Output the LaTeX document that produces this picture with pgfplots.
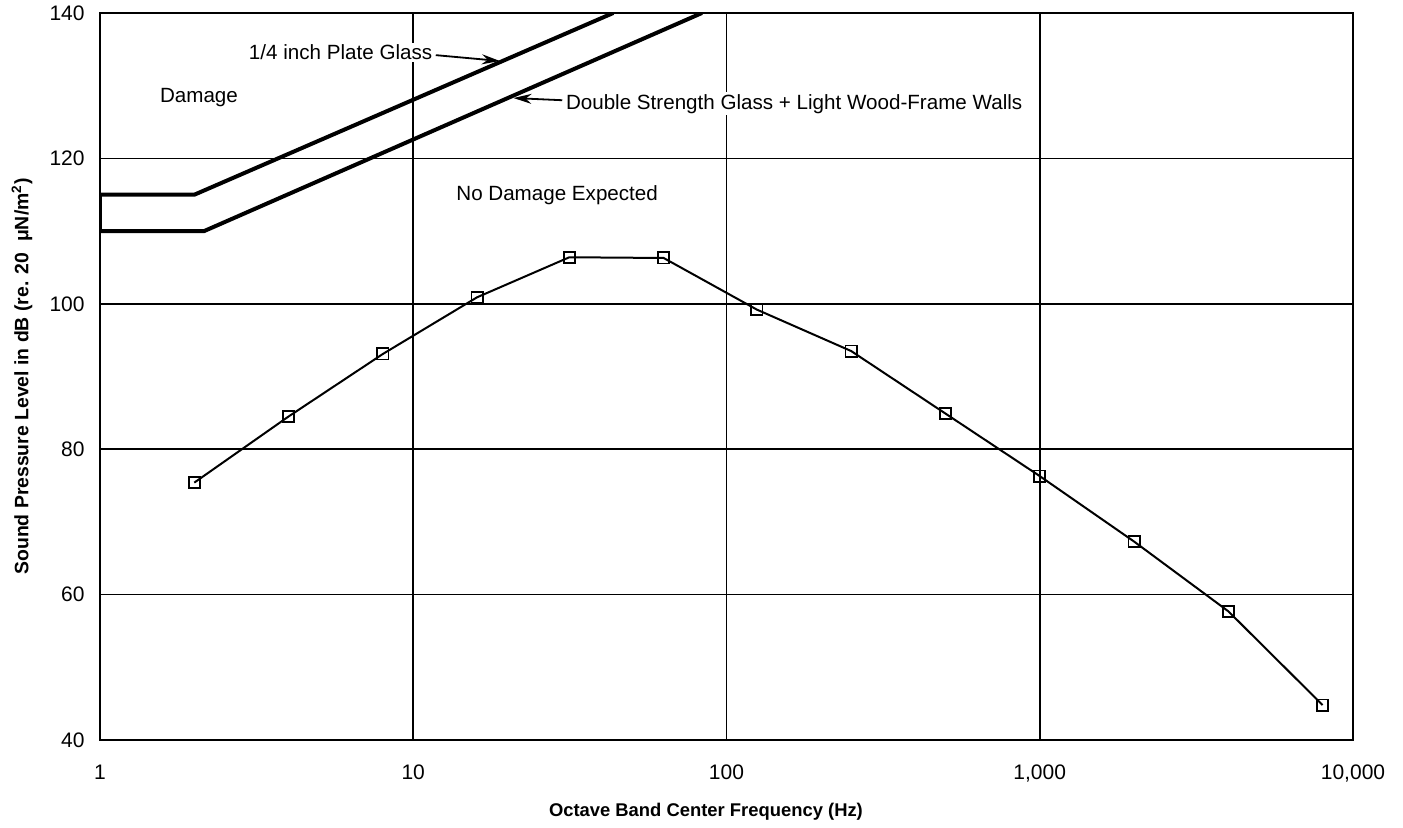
\documentclass[border=0pt]{standalone}
\usepackage{fontspec}
\setmainfont{Liberation Sans}
\usepackage{pgfplots}
\pgfplotsset{compat=1.18}
\usetikzlibrary{arrows.meta}

\pgfplotstableread{
f    spl
2    75.4
4    84.5
8    93.1
16   100.9
31.5 106.4
63   106.3
125  99.2
250  93.5
500  84.9
1000 76.3
2000 67.3
4000 57.7
8000 44.8
}\spectrum

\pgfplotstableread{
f    lim
43.5 140
2    115
1    115
1    110
2.15 110
83.5 140
}\band

\begin{document}
\begin{tikzpicture}
\begin{axis}[
  scale only axis, width=626.5pt, height=363.5pt,
  xmode=log, log basis x=10,
  xmin=1, xmax=10000, ymin=40, ymax=140,
  xtick={1,10,100,1000,10000},
  xticklabels={1,10,100,{1,000},{10,000}},
  minor xtick={},
  ytick={40,60,80,100,120,140},
  grid=major,
  major grid style={black, line width=0.8pt},
  axis line style={black, line width=0.9pt},
  major tick length=0pt,
  /pgf/number format/assume math mode=true,
  xticklabel style={font=\fontsize{10.5}{12}\selectfont, anchor=base, inner sep=0pt, yshift=-20pt},
  yticklabel style={font=\fontsize{10.5}{12}\selectfont, anchor=east, inner sep=0pt, xshift=-7.5pt},
  xlabel={Octave Band Center Frequency (Hz)},
  ylabel={Sound Pressure Level in dB (re. 20\ \ μN/m\textsuperscript{2})},
  xlabel style={font=\bfseries\fontsize{9.2}{11}\selectfont, at={(axis description cs:0.4836,-0.099)}, anchor=center},
  ylabel style={font=\bfseries\fontsize{9.7}{11}\selectfont, at={(axis description cs:-0.0622,0.5)}, anchor=center},
]
\addplot[black, line width=2pt, line join=round] table[x=f, y=lim] {\band};
\addplot[black, line width=1pt, mark=square, mark size=2.8pt,
  mark options={solid, line width=0.9pt, fill=white}] table[x=f, y=spl] {\spectrum};

\node[font=\fontsize{10.3}{12}\selectfont] at (axis cs:2.07,128.3) {Damage};
\node[font=\fontsize{10.3}{12}\selectfont] at (axis cs:28.8,114.9) {No Damage Expected};
\node[font=\fontsize{10.3}{12}\selectfont, anchor=east, fill=white, inner sep=1pt] at (axis cs:11.7,134.6) {1/4 inch Plate Glass};
\draw[black, line width=0.9pt, -{Stealth[length=9pt,width=5pt]}] (axis cs:11.8,134.2) -- (axis cs:18.9,133.4);
\node[font=\fontsize{10.3}{12}\selectfont, anchor=west, fill=white, inner sep=1pt] at (axis cs:30.2,127.5) {Double Strength Glass + Light Wood-Frame Walls};
\draw[black, line width=0.9pt, -{Stealth[length=9pt,width=5pt]}] (axis cs:29.9,128.0) -- (axis cs:20.9,128.3);
\end{axis}
\pgfresetboundingbox
\path ([shift={(-50pt,-44pt)}]current axis.south west) rectangle ([shift={(25pt,6.5pt)}]current axis.north east);
\end{tikzpicture}
\end{document}
